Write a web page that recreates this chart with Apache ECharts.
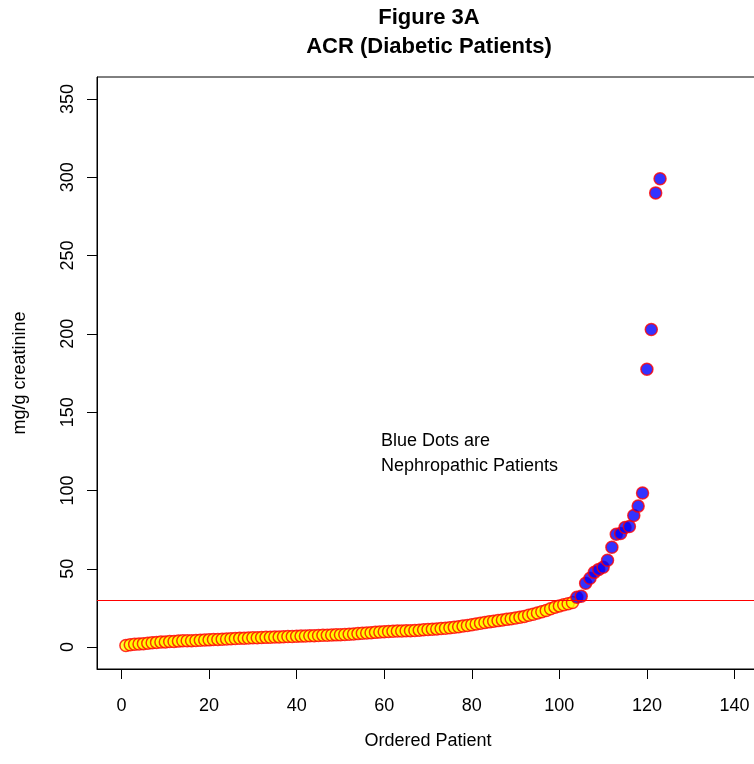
<!DOCTYPE html>
<html>
<head>
<meta charset="utf-8">
<script src="https://cdn.jsdelivr.net/npm/echarts@6/dist/echarts.min.js"></script>
<style>html,body{margin:0;padding:0;background:#fff;overflow:hidden;width:754px;height:764px}#c{width:760px;height:764px}</style>
</head>
<body>
<div id="c"></div>
<script>
// ACR values (mg/g creatinine), sorted; non-nephropathic (yellow) then nephropathic (blue)
const yellowValues = [
 1.0,1.5,1.8,2.0,2.2,2.5,2.8,3.0,3.2,3.3,
 3.5,3.6,3.8,4.0,4.0,4.1,4.2,4.4,4.5,4.6,
 4.8,4.9,5.0,5.1,5.3,5.5,5.6,5.7,5.8,5.9,
 6.0,6.1,6.2,6.3,6.4,6.5,6.6,6.7,6.8,6.9,
 7.0,7.1,7.2,7.3,7.4,7.5,7.6,7.7,7.8,7.9,
 8.0,8.2,8.4,8.6,8.8,9.0,9.2,9.4,9.6,9.8,
 10.0,10.1,10.2,10.3,10.4,10.5,10.6,10.8,11.0,11.2,
 11.4,11.6,11.8,12.0,12.3,12.6,13.0,13.4,13.8,14.2,
 14.7,15.2,15.7,16.1,16.5,16.9,17.3,17.7,18.1,18.5,
 19.0,19.6,20.3,21.0,21.8,22.6,23.4,24.5,25.5,26.3,
 27.0,27.7,28.4
];
const blueValues = [
 31.8,32.4,40.7,44.0,47.7,49.6,51.0,55.4,63.7,72.0,
 72.5,76.3,77.0,84.0,90.0,98.4,177.4,202.8,290.0,299.0
];
const thresholdValue = 30;
const xTicks = [0,20,40,60,80,100,120,140];
const yTicks = [0,50,100,150,200,250,300,350];
const titleLines = ['Figure 3A', 'ACR (Diabetic Patients)'];
const xTitle = 'Ordered Patient';
const yTitle = 'mg/g creatinine';
const noteText = 'Blue Dots are\nNephropathic Patients';

const yellowData = yellowValues.map((v, i) => [i + 1, v]);
const blueData = blueValues.map((v, i) => [yellowValues.length + i + 1, v]);

const FONT = "'Liberation Sans', Arial, sans-serif";
const chart = echarts.init(document.getElementById('c'), null, {renderer: 'canvas'});
chart.setOption({
  animation: false,
  backgroundColor: '#fff',
  grid: {left: 97, right: 1, top: 77, bottom: 95, show: true, borderColor: '#000', borderWidth: 1, backgroundColor: 'transparent'},
  xAxis: {
    type: 'value', min: -5.6, max: 145.6,
    splitLine: {show: false},
    axisLine: {show: true, onZero: false, lineStyle: {color: '#000', width: 1}},
    axisTick: {show: true, length: 10, customValues: xTicks, lineStyle: {color: '#000'}},
    axisLabel: {customValues: xTicks, color: '#000', fontSize: 18, fontFamily: FONT, margin: 28}
  },
  yAxis: {
    type: 'value', min: -14, max: 364,
    splitLine: {show: false},
    axisLine: {show: true, onZero: false, lineStyle: {color: '#000', width: 1}},
    axisTick: {show: true, length: 10, customValues: yTicks, lineStyle: {color: '#000'}},
    axisLabel: {customValues: yTicks, color: '#000', fontSize: 18, fontFamily: FONT, rotate: 90, margin: 20},
    name: yTitle, nameLocation: 'middle', nameGap: 68, nameRotate: 90,
    nameTextStyle: {color: '#000', fontSize: 18, fontFamily: FONT}
  },
  series: [
    {
      type: 'scatter', data: yellowData, symbol: 'circle', symbolSize: 12,
      itemStyle: {color: '#FFFF00', borderColor: '#FF0000', borderWidth: 1.5},
      markLine: {
        silent: true, symbol: ['none', 'none'], label: {show: false},
        lineStyle: {color: '#FF0000', width: 1, type: 'solid'},
        data: [{yAxis: thresholdValue}]
      },
      z: 3
    },
    {
      type: 'scatter', data: blueData, symbol: 'circle', symbolSize: 12,
      itemStyle: {color: '#0000FF', borderColor: '#FF0000', borderWidth: 1.5},
      z: 4
    }
  ],
  graphic: [
    {type: 'text', x: 429, y: 18, style: {text: titleLines[0], fontSize: 22, fontWeight: 'bold', fontFamily: FONT, fill: '#000', align: 'center', verticalAlign: 'middle'}},
    {type: 'text', x: 429, y: 47, style: {text: titleLines[1], fontSize: 22, fontWeight: 'bold', fontFamily: FONT, fill: '#000', align: 'center', verticalAlign: 'middle'}},
    {type: 'text', x: 428, y: 741, style: {text: xTitle, fontSize: 18, fontFamily: FONT, fill: '#000', align: 'center', verticalAlign: 'middle'}},
    {type: 'text', x: 381, y: 429, style: {text: noteText, fontSize: 18, lineHeight: 25, fontFamily: FONT, fill: '#000', align: 'left', verticalAlign: 'top'}}
  ]
});
</script>
</body>
</html>
